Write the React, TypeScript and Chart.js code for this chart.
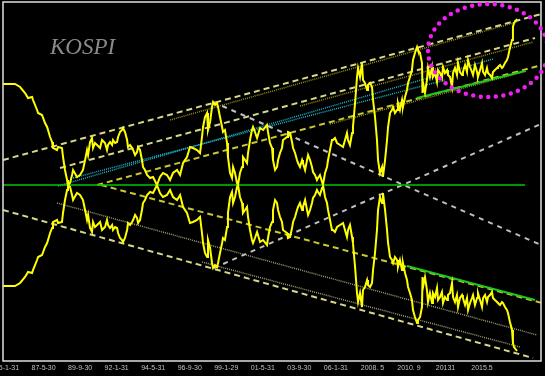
import React, { useEffect, useRef } from "react";
import { Chart, registerables } from "chart.js";
Chart.register(...registerables);

// x axis: months since 1985-01; tick labels every 28 months
const tickMonths = [0, 28, 56, 84, 112, 140, 168, 196, 224, 252, 280, 308, 336, 364];
const tickLabels = ["85-1-31", "87-5-30", "89-9-30", "92-1-31", "94-5-31", "96-9-30", "99-1-29", "01-5-31", "03-9-30", "06-1-31", "2008. 5", "2010. 9", "20131", "2015.5"];

// KOSPI distance from the mirror axis (drawn above and mirrored below)
const kospiMonths = [-3.1, 6.1, 10.0, 13.8, 16.1, 19.2, 19.9, 23.0, 23.8, 26.8, 29.1, 30.7, 33.0, 34.5, 35.2, 38.3, 39.1, 42.1, 42.9, 44.4, 46.0, 46.7, 48.3, 49.8, 50.6, 53.6, 55.9, 58.2, 59.8, 61.3, 62.1, 63.6, 65.1, 65.9, 67.4, 69.0, 71.3, 72.8, 75.1, 76.6, 77.4, 78.9, 80.5, 81.2, 82.8, 84.3, 85.1, 86.6, 88.1, 88.9, 90.4, 92.0, 92.7, 94.3, 95.8, 96.6, 98.1, 99.6, 100.4, 101.9, 103.4, 104.2, 105.7, 107.3, 109.6, 111.9, 114.9, 117.2, 119.5, 122.6, 124.9, 127.2, 130.3, 132.6, 134.9, 137.9, 140.2, 142.5, 145.6, 147.9, 149.4, 150.2, 151.7, 153.3, 154.0, 155.6, 157.1, 157.9, 159.4, 160.9, 161.7, 163.2, 164.8, 165.5, 167.0, 168.6, 169.3, 170.9, 172.4, 173.2, 174.7, 176.2, 177.0, 178.5, 180.1, 180.8, 182.4, 183.9, 184.7, 186.2, 187.7, 188.5, 190.0, 191.6, 193.9, 196.2, 199.2, 200.0, 201.5, 203.1, 203.8, 205.4, 206.9, 207.7, 209.2, 210.7, 211.5, 214.6, 215.3, 216.9, 218.4, 219.2, 220.7, 222.2, 223.0, 224.5, 226.1, 226.8, 228.4, 229.9, 230.7, 232.2, 233.7, 234.5, 236.0, 237.5, 238.3, 239.8, 241.4, 242.1, 243.7, 245.2, 246.0, 247.5, 249.0, 249.8, 251.3, 252.9, 255.2, 257.5, 259.0, 260.5, 261.3, 262.8, 264.4, 265.1, 266.7, 268.2, 269.0, 270.5, 272.0, 272.8, 274.3, 275.9, 276.6, 278.2, 279.7, 280.5, 282.0, 283.5, 284.3, 285.8, 287.4, 288.1, 289.7, 291.2, 292.0, 293.5, 295.0, 295.8, 297.3, 298.9, 299.6, 301.1, 302.7, 303.4, 305.0, 306.5, 307.3, 308.8, 310.3, 311.1, 312.6, 314.2, 314.9, 316.5, 318.0, 318.4, 318.8, 320.3, 321.8, 322.6, 324.1, 325.7, 326.4, 328.0, 329.5, 330.3, 331.8, 333.3, 334.1, 335.6, 337.2, 337.9, 339.5, 341.0, 341.8, 343.3, 344.8, 345.6, 347.1, 348.7, 349.4, 351.0, 352.5, 353.3, 354.8, 356.3, 357.1, 358.6, 360.2, 360.9, 362.5, 364.0, 364.8, 366.3, 367.8, 368.6, 370.1, 371.6, 372.4, 373.9, 375.5, 376.2, 377.8, 379.3, 380.1, 381.6, 383.1, 383.9, 385.4, 387.0, 387.7, 388.5, 390.8];
const kospiSpread = [101, 101, 98, 92, 87, 88, 85, 75, 72, 70, 62, 58, 48, 43, 37, 35, 38, 37, 28, 15, 5, 0, 2, 10, 15, 8, 10, 15, 25, 35, 30, 43, 47, 37, 42, 40, 37, 45, 42, 35, 40, 43, 40, 45, 42, 43, 48, 53, 55, 57, 53, 45, 38, 40, 37, 35, 30, 33, 38, 35, 25, 18, 15, 10, 7, 8, 0, 8, 12, 10, 5, 12, 15, 10, 22, 28, 38, 37, 35, 32, 48, 58, 68, 72, 55, 63, 78, 83, 80, 82, 78, 68, 58, 53, 55, 42, 28, 12, 7, 18, 12, 2, 0, 12, 18, 28, 25, 22, 32, 45, 55, 58, 53, 47, 57, 55, 60, 53, 42, 37, 25, 15, 18, 25, 32, 37, 45, 48, 53, 52, 43, 37, 32, 25, 22, 18, 25, 22, 15, 25, 30, 25, 18, 13, 10, 5, 7, 10, 3, 0, 12, 18, 25, 35, 45, 45, 47, 42, 40, 38, 45, 52, 45, 40, 52, 58, 82, 108, 117, 108, 122, 105, 102, 95, 100, 102, 98, 85, 68, 45, 25, 12, 18, 8, 25, 45, 58, 72, 75, 78, 72, 75, 82, 75, 85, 78, 88, 95, 102, 108, 115, 125, 132, 138, 135, 132, 122, 92, 102, 92, 105, 117, 108, 118, 108, 112, 103, 115, 112, 107, 118, 112, 115, 110, 108, 98, 112, 117, 110, 122, 113, 110, 113, 120, 113, 125, 118, 113, 110, 120, 113, 108, 115, 122, 113, 110, 117, 112, 110, 107, 113, 115, 117, 118, 120, 117, 118, 122, 125, 128, 137, 145, 158, 162, 166];

// trend lines: [startMonth, startValue, endMonth, endValue]
const mirrorAxis = [-3.1, 0, 397, 0];
const upperOuter = [-3.1, 25, 412.3, 172];
const upperOuterDot = [124.9, 65, 390.8, 163];
const upperMid = [40.6, 17, 404.6, 147];
const upperMidDot = [224.5, 79, 403.1, 143];
const upperCyanA = [39.1, -1, 372.4, 126];
const upperCyanB = [50.6, 7, 335.6, 105];
const upperSupport = [69.0, 0, 406.9, 119];
const upperSupportDot = [247.5, 61, 398.5, 114];
const upperGreen = [314.2, 87, 396.9, 114];
const lowerOuter = [-3.1, -25, 403.1, -173];
const lowerDotA = [38.3, -18, 406.1, -150];
const lowerDotB = [149.4, -77, 393.1, -162];
const lowerSupport = [72.0, 0, 410.0, -118];
const lowerGreen = [306.5, -81, 404.6, -115];
const crossDown = [157.9, 83, 409.2, -60];
const crossUp = [158.6, -83, 409.2, 61];

// highlight ellipse: centre [month, value], radii [months, value]
const ellipseCenter = [368.6, 134.5];
const ellipseRadius = [46, 46.5];

export default function App() {
  const ref = useRef<HTMLCanvasElement>(null);
  useEffect(() => {
    document.body.style.margin = "0";
    document.body.style.background = "#000";
    const kUp = kospiMonths.map((m, i) => ({ x: m, y: kospiSpread[i] }));
    const kDown = kospiMonths.map((m, i) => ({ x: m, y: -kospiSpread[i] }));
    const seg = (s: number[], color: string, width: number, dash: number[]) => ({
      data: [{ x: s[0], y: s[1] }, { x: s[2], y: s[3] }],
      borderColor: color,
      borderWidth: width,
      borderDash: dash,
      pointRadius: 0,
      fill: false,
      tension: 0,
    });
    const yellow = (d: any[]) => ({ data: d, borderColor: "#ffff00", borderWidth: 2, pointRadius: 0, fill: false, tension: 0 });
    const pale = "#d6d68c";
    const dashY = "#c8c832";
    const olive = "#8f8f1e";
    const oliveGrey = "#9a9a72";
    const cyan = "#1eb4c8";
    const green = "#1ec81e";
    const white = "#c0c0c0";

    const frame = {
      id: "frame",
      afterDatasetsDraw(chart: any) {
        const { ctx, chartArea: a } = chart;
        ctx.save();
        ctx.strokeStyle = "#e0e0e0";
        ctx.lineWidth = 1.5;
        ctx.setLineDash([]);
        ctx.strokeRect(a.left, a.top, a.right - a.left, a.bottom - a.top);
        ctx.restore();
      },
    };
    const ellipse = {
      id: "ellipse",
      afterDatasetsDraw(chart: any) {
        const { ctx } = chart;
        const xs = chart.scales.x;
        const ys = chart.scales.y;
        const cx = xs.getPixelForValue(ellipseCenter[0]);
        const cy = ys.getPixelForValue(ellipseCenter[1]);
        const rx = Math.abs(xs.getPixelForValue(ellipseCenter[0] + ellipseRadius[0]) - cx);
        const ry = Math.abs(ys.getPixelForValue(ellipseCenter[1] + ellipseRadius[1]) - cy);
        ctx.save();
        ctx.strokeStyle = "#f01ef0";
        ctx.lineWidth = 4.5;
        ctx.lineCap = "round";
        ctx.setLineDash([0, 7.6]);
        ctx.beginPath();
        ctx.ellipse(cx, cy, rx, ry, 0, 0, Math.PI * 2);
        ctx.stroke();
        ctx.restore();
      },
    };

    const chart = new Chart(ref.current as HTMLCanvasElement, {
      type: "line",
      data: {
        datasets: [
          yellow(kUp),
          yellow(kDown),
          seg(mirrorAxis, "#00c800", 1.5, []),
          seg(upperGreen, green, 2, []),
          seg(lowerGreen, green, 2, []),
          seg(crossDown, white, 2, [5, 5]),
          seg(crossUp, white, 2, [5, 5]),
          seg(upperSupport, dashY, 2, [6, 4]),
          seg(lowerSupport, dashY, 2, [6, 4]),
          seg(upperOuter, pale, 2, [6, 4]),
          seg(upperMid, pale, 2, [6, 4]),
          seg(lowerOuter, pale, 2, [6, 4]),
          seg(upperCyanA, cyan, 1.5, [1, 1]),
          seg(upperCyanB, cyan, 1.5, [1, 1]),
          seg(upperOuterDot, olive, 1.5, [1, 1]),
          seg(upperMidDot, olive, 1.5, [1, 1]),
          seg(upperSupportDot, olive, 1.5, [1, 1]),
          seg(lowerDotA, oliveGrey, 1.5, [1, 1]),
          seg(lowerDotB, oliveGrey, 1.5, [1, 1]),
        ] as any,
      },
      options: {
        responsive: false,
        animation: false,
        devicePixelRatio: 1,
        layout: { padding: { left: 3, top: 2, right: 4, bottom: 0 } },
        plugins: { legend: { display: false }, tooltip: { enabled: false } },
        scales: {
          x: {
            type: "linear",
            min: -3.1,
            max: 409.2,
            grid: { display: false, drawTicks: false, tickLength: 0 },
            border: { display: false },
            afterBuildTicks: (s: any) => {
              s.ticks = tickMonths.map((v) => ({ value: v }));
            },
            afterFit: (s: any) => {
              s.height = 15;
              s.paddingLeft = 0;
              s.paddingRight = 0;
            },
            ticks: {
              color: "#c0c0c0",
              font: { size: 7, family: "'Liberation Sans', Arial, sans-serif" },
              padding: 3,
              maxRotation: 0,
              autoSkip: false,
              callback: (_v: any, i: number) => tickLabels[i],
            },
          },
          y: { display: false, min: -176, max: 183 },
        },
      } as any,
      plugins: [frame, ellipse],
    });
    return () => chart.destroy();
  }, []);

  return (
    <div style={{ position: "absolute", left: 0, top: 0, width: 545, height: 376, background: "#000", overflow: "hidden" }}>
      <canvas ref={ref} width={545} height={376} style={{ display: "block" }} />
      <div
        style={{
          position: "absolute",
          left: 50,
          top: 35,
          fontFamily: "'Liberation Serif', 'Times New Roman', serif",
          fontStyle: "italic",
          fontSize: 23,
          lineHeight: 1,
          color: "#8a8a8a",
          whiteSpace: "nowrap",
        }}
      >
        KOSPI
      </div>
    </div>
  );
}
